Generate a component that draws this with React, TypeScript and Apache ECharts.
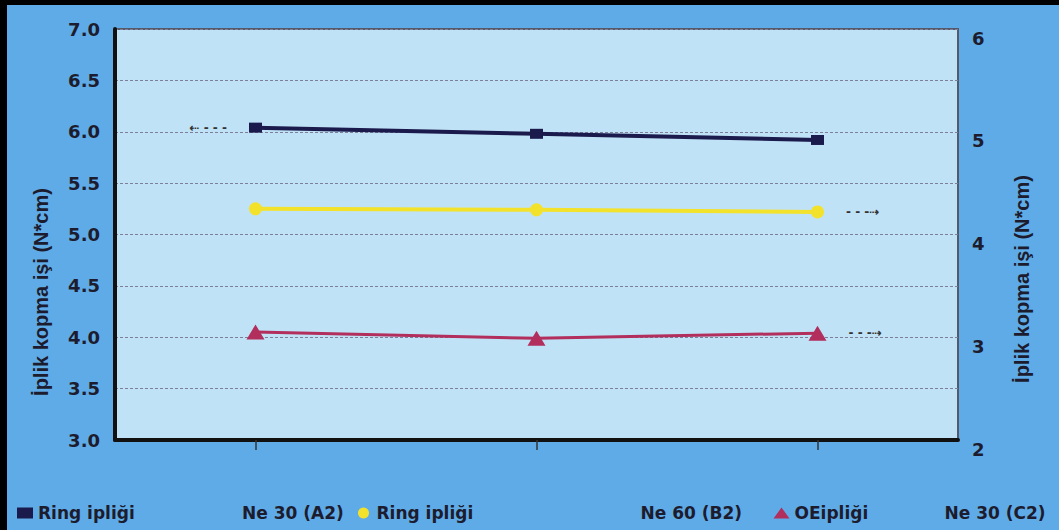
import React, { useEffect, useRef } from "react";
import * as echarts from "echarts";

const categories = ["1", "2", "3"];
const leftMin = 3;
const leftMax = 7;
const leftStep = 0.5;
const rightMin = 2;
const rightMax = 6;
const rightStep = 1;

const ringNe30 = [6.04, 5.98, 5.92]; // left axis
const ringNe60 = [4.25, 4.24, 4.22]; // right axis
const oeNe30 = [3.05, 2.99, 3.04]; // right axis

const legendParts = [
  ["Ring ipliği", "Ne 30 (A2)"],
  ["Ring ipliği", "Ne 60 (B2)"],
  ["OEipliği", "Ne 30 (C2)"],
];
const seriesNames = legendParts.map((p) => p[0] + " " + p[1]);
const axisTitle = "İplik kopma işi (N*cm)";
const arrowLeft = "⇠ - - -";
const arrowRight = "- - -⇢";

const TXT = "#1c1c2e";
const LBL_FONT = "DejaVu Sans";

export default function App() {
  const ref = useRef<HTMLDivElement>(null);
  useEffect(() => {
    if (!ref.current) return;
    const chart = echarts.init(ref.current, undefined, { renderer: "svg" });
    const richBase = {
      fontFamily: LBL_FONT,
      fontWeight: "bold" as const,
      fontSize: 17,
      color: TXT,
    };
    const arrowLabel = (pos: "left" | "right", text: string) => ({
      show: true,
      position: pos,
      distance: 22,
      formatter: text,
      fontFamily: LBL_FONT,
      fontSize: 12,
      fontWeight: "bold",
      color: "#333",
    });
    const option: any = {
      animation: false,
      backgroundColor: "#5fabe8",
      grid: {
        left: 108,
        top: 24,
        width: 843,
        height: 411,
        show: true,
        backgroundColor: "#c0e2f6",
        borderColor: "#55596a",
        borderWidth: 2,
      },
      legend: {
        left: 5,
        top: 493,
        itemWidth: 16,
        itemHeight: 11,
        itemGap: 8,
        data: [
          { name: seriesNames[0], icon: "rect" },
          { name: seriesNames[1], icon: "circle" },
          { name: seriesNames[2], icon: "triangle" },
        ],
        textStyle: {
          ...richBase,
          lineHeight: 20,
          rich: {
            a0: { ...richBase, width: 204 },
            b0: { ...richBase, width: 108 },
            a1: { ...richBase, width: 264 },
            b1: { ...richBase, width: 125 },
            a2: { ...richBase, width: 150 },
            b2: { ...richBase },
          },
        },
        formatter: (name: string) => {
          const i = seriesNames.indexOf(name);
          return `{a${i}|${legendParts[i][0]}}{b${i}|${legendParts[i][1]}}`;
        },
      },
      xAxis: {
        type: "category",
        data: categories,
        boundaryGap: true,
        axisLine: { show: true, lineStyle: { color: "#111", width: 4 } },
        axisTick: {
          show: true,
          alignWithLabel: true,
          length: 10,
          lineStyle: { color: "#333", width: 1.5 },
        },
        axisLabel: { show: false },
        splitLine: { show: false },
      },
      yAxis: [
        {
          type: "value",
          min: leftMin,
          max: leftMax,
          interval: leftStep,
          position: "left",
          axisLine: { show: true, lineStyle: { color: "#111", width: 4 } },
          axisTick: { show: false },
          axisLabel: {
            formatter: (v: number) => v.toFixed(1),
            margin: 15,
            fontFamily: LBL_FONT,
            fontWeight: "bold",
            fontSize: 18,
            color: TXT,
          },
          splitLine: {
            show: true,
            lineStyle: { color: "#7d7f98", type: [3, 2], width: 1 },
          },
        },
        {
          type: "value",
          min: rightMin,
          max: rightMax,
          interval: rightStep,
          position: "right",
          axisLine: { show: false },
          axisTick: { show: false },
          axisLabel: {
            margin: 14,
            verticalAlign: "top",
            fontFamily: LBL_FONT,
            fontWeight: "bold",
            fontSize: 18,
            color: TXT,
          },
          splitLine: { show: false },
        },
      ],
      graphic: [
        {
          type: "text",
          x: 34,
          y: 287,
          rotation: Math.PI / 2,
          style: {
            text: axisTitle,
            fontFamily: "Liberation Sans",
            fontWeight: "bold",
            fontSize: 20,
            fill: TXT,
            textAlign: "center",
            textVerticalAlign: "middle",
          },
        },
        {
          type: "text",
          x: 1015,
          y: 274,
          rotation: Math.PI / 2,
          style: {
            text: axisTitle,
            fontFamily: "Liberation Sans",
            fontWeight: "bold",
            fontSize: 20,
            fill: TXT,
            textAlign: "center",
            textVerticalAlign: "middle",
          },
        },
      ],
      series: [
        {
          name: seriesNames[0],
          type: "line",
          yAxisIndex: 0,
          data: ringNe30.map((v, i) =>
            i === 0 ? { value: v, label: arrowLabel("left", arrowLeft) } : v
          ),
          symbol: "rect",
          symbolSize: [13, 10],
          lineStyle: { color: "#1b1a4c", width: 4 },
          itemStyle: { color: "#1b1a4c" },
        },
        {
          name: seriesNames[1],
          type: "line",
          yAxisIndex: 1,
          data: ringNe60.map((v, i) =>
            i === ringNe60.length - 1
              ? { value: v, label: arrowLabel("right", arrowRight) }
              : v
          ),
          symbol: "circle",
          symbolSize: 13,
          lineStyle: { color: "#f3e22c", width: 4 },
          itemStyle: { color: "#f3e22c" },
        },
        {
          name: seriesNames[2],
          type: "line",
          yAxisIndex: 1,
          data: oeNe30.map((v, i) =>
            i === oeNe30.length - 1
              ? { value: v, label: arrowLabel("right", arrowRight) }
              : v
          ),
          symbol: "triangle",
          symbolSize: [18, 15],
          lineStyle: { color: "#b22e5c", width: 3 },
          itemStyle: { color: "#b22e5c" },
        },
      ],
    };
    chart.setOption(option);
    return () => chart.dispose();
  }, []);
  return (
    <div
      style={{
        position: "fixed",
        left: 0,
        top: 0,
        width: 1059,
        height: 530,
        background: "#000",
        overflow: "hidden",
      }}
    >
      <div
        ref={ref}
        style={{ position: "absolute", left: 7, top: 5, width: 1052, height: 525 }}
      />
    </div>
  );
}
